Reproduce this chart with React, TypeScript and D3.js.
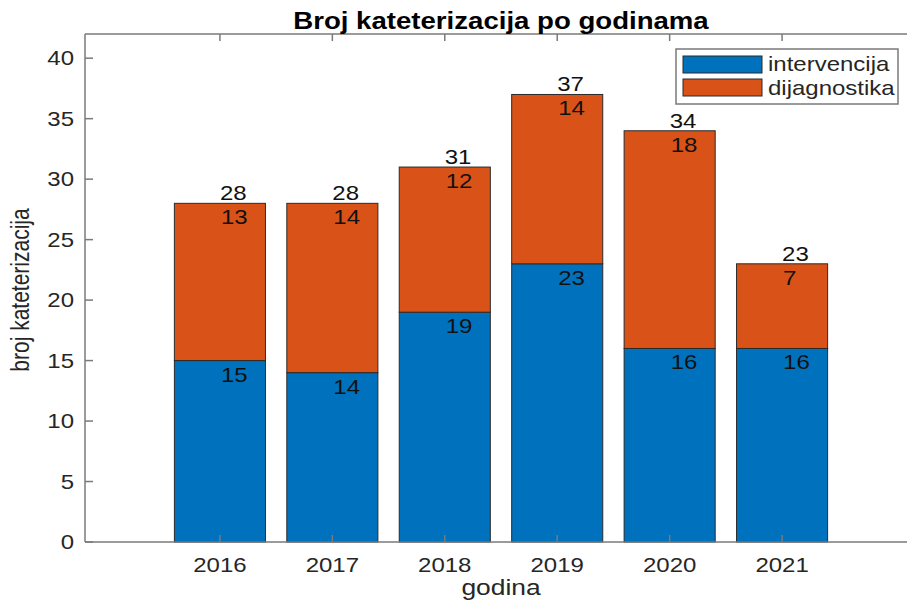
import React from 'react';
import * as d3 from 'd3';

// data
const years = [2016, 2017, 2018, 2019, 2020, 2021];
const intervencija = [15, 14, 19, 23, 16, 16];
const dijagnostika = [13, 14, 12, 14, 18, 7];
const seriesNames = ['intervencija', 'dijagnostika'];
const yTicks = [0, 5, 10, 15, 20, 25, 30, 35, 40];

const W = 907;
const H = 603;
const COLORS = ['#0072BD', '#D95319'];
const AXIS = '#7a7a7a';
const FONT = '"Liberation Sans", Arial, Helvetica, sans-serif';
const SX = 1.2; // the picture's text is stretched sideways

function Txt(props: { x: number; y: number; size: number; anchor?: string; bold?: boolean; rotate?: boolean; fill?: string; children: any }) {
  const { x, y, size, anchor = 'start', bold = false, rotate = false, fill = '#262626' } = props;
  const tr = rotate
    ? `translate(${x},${y}) rotate(-90) scale(1,${SX})`
    : `translate(${x},${y}) scale(${SX},1)`;
  return (
    <text transform={tr} fontSize={size} fontFamily={FONT} textAnchor={anchor}
      fontWeight={bold ? 'bold' : 'normal'} fill={fill}>
      {props.children}
    </text>
  );
}

export default function App() {
  const left = 85, right = 917, top = 34, bottom = 542;

  const x = d3.scaleLinear().domain([2014.8, 2022.2]).range([left, right]);
  const y = d3.scaleLinear().domain([0, 42]).range([bottom, top]);
  const bw = (x(2017) - x(2016)) * 0.81;

  const table = years.map((yr, i) => ({ year: yr, intervencija: intervencija[i], dijagnostika: dijagnostika[i] }));
  const stacked = d3.stack<any>().keys(seriesNames)(table);
  const totals = years.map((_, i) => intervencija[i] + dijagnostika[i]);

  return (
    <svg width={W} height={H} style={{ position: 'absolute', left: 0, top: 0, background: '#fff' }}>
      <rect x={0} y={0} width={W} height={H} fill="#fff" />

      {/* bars */}
      {stacked.map((s, si) => (
        <g key={s.key}>
          {s.map((d, i) => (
            <rect key={i} x={x(years[i]) - bw / 2} y={y(d[1])} width={bw}
              height={y(d[0]) - y(d[1])} fill={COLORS[si]} stroke="#2a2a2a" strokeWidth={1} />
          ))}
        </g>
      ))}

      {/* segment labels */}
      {stacked.map((s) => s.map((d, i) => (
        <Txt key={s.key + i} x={x(years[i]) + 1} y={y(d[1]) + 21} size={20} fill="#111">
          {d[1] - d[0]}
        </Txt>
      )))}

      {/* totals */}
      {totals.map((t, i) => (
        <Txt key={'t' + i} x={x(years[i])} y={y(t) - 3} size={20} fill="#111">{t}</Txt>
      ))}

      {/* axes box */}
      <g stroke={AXIS} strokeWidth={1.5} fill="none">
        <line x1={left} x2={left} y1={top} y2={bottom} />
        <line x1={left} x2={right} y1={bottom} y2={bottom} />
        <line x1={left} x2={right} y1={top} y2={top} />
        <line x1={right} x2={right} y1={top} y2={bottom} />
        {yTicks.map((t) => (
          <g key={'yt' + t}>
            <line x1={left} x2={left + 8} y1={y(t)} y2={y(t)} />
            <line x1={right} x2={right - 8} y1={y(t)} y2={y(t)} />
          </g>
        ))}
        {years.map((yr) => (
          <g key={'xt' + yr}>
            <line x1={x(yr)} x2={x(yr)} y1={bottom} y2={bottom - 7} />
            <line x1={x(yr)} x2={x(yr)} y1={top} y2={top + 7} />
          </g>
        ))}
      </g>

      {/* tick labels */}
      {yTicks.map((t) => (
        <Txt key={'yl' + t} x={left - 11} y={y(t) + 7} size={20} anchor="end">{t}</Txt>
      ))}
      {years.map((yr) => (
        <Txt key={'xl' + yr} x={x(yr)} y={bottom + 30} size={20} anchor="middle">{yr}</Txt>
      ))}

      {/* titles */}
      <Txt x={501} y={29} size={23} anchor="middle" bold fill="#000">Broj kateterizacija po godinama</Txt>
      <Txt x={501} y={595} size={22} anchor="middle">godina</Txt>
      <Txt x={29} y={290} size={21} anchor="middle" rotate>broj kateterizacija</Txt>

      {/* legend */}
      <rect x={676} y={49} width={222} height={55} fill="#fff" stroke={AXIS} strokeWidth={1.5} />
      {seriesNames.map((n, i) => (
        <g key={n}>
          <rect x={683} y={56 + i * 23} width={79} height={17} fill={COLORS[i]} stroke="#2a2a2a" strokeWidth={1} />
          <Txt x={768} y={71 + i * 24} size={20}>{n}</Txt>
        </g>
      ))}
    </svg>
  );
}
